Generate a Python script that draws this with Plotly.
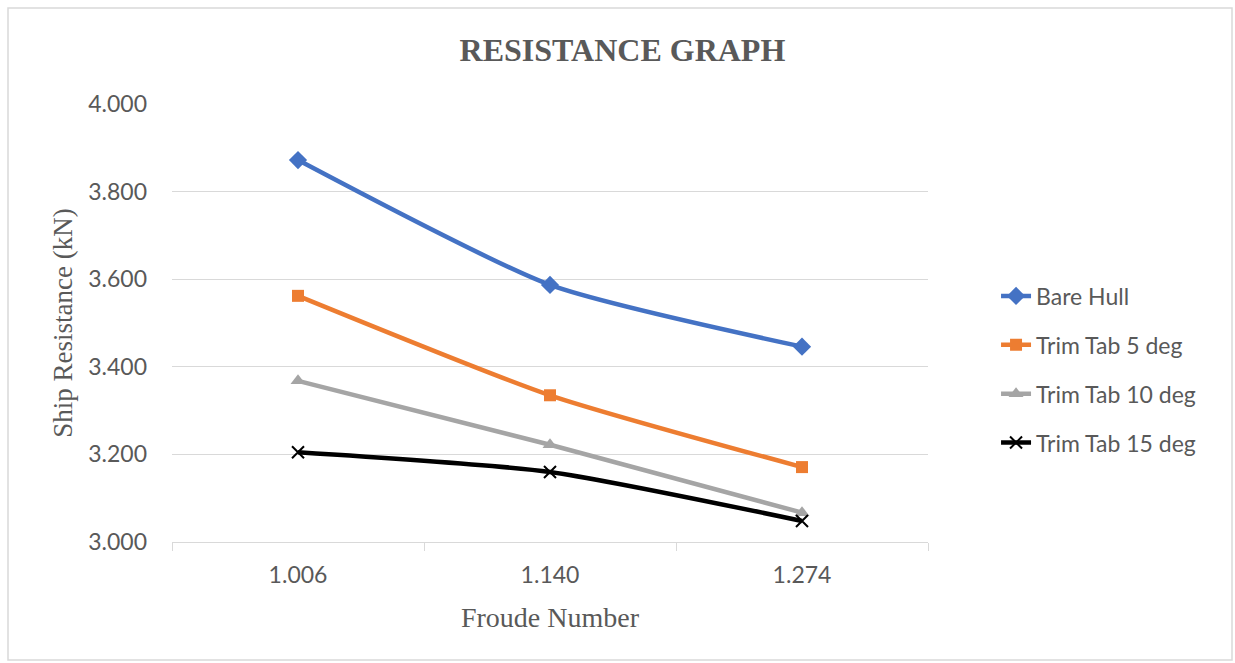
import plotly.graph_objects as go

categories = ["1.006", "1.140", "1.274"]
bare_hull = [3.872, 3.587, 3.446]
trim_5 = [3.562, 3.335, 3.171]
trim_10 = [3.368, 3.222, 3.067]
trim_15 = [3.205, 3.160, 3.048]
y_ticks = [3.0, 3.2, 3.4, 3.6, 3.8, 4.0]

series = [
    ("Bare Hull", bare_hull, "#4472C4", dict(symbol="diamond", size=14)),
    ("Trim Tab 5 deg", trim_5, "#ED7D31", dict(symbol="square", size=12)),
    ("Trim Tab 10 deg", trim_10, "#A5A5A5", dict(symbol="triangle-up", size=13)),
    ("Trim Tab 15 deg", trim_15, "#000000", dict(symbol="x-thin", size=12, line=dict(width=2, color="#000000"))),
]

fig = go.Figure()
for i, (name, vals, color, mk) in enumerate(series):
    fig.add_trace(go.Scatter(
        x=categories, y=vals, name=name, mode="lines+markers",
        line=dict(color=color, width=4.5, shape="spline", smoothing=0.6),
        marker=dict(color=color, **mk),
        legendgroup=f"g{i}",
    ))

fig.update_layout(
    width=1235, height=663,
    margin=dict(l=172, r=307, t=104, b=121),
    paper_bgcolor="white", plot_bgcolor="white",
    title=dict(text="<b>RESISTANCE GRAPH</b>", x=0.504, xanchor="center", y=0.925, yanchor="middle",
               font=dict(family="Liberation Serif", size=32, color="#595959")),
    showlegend=True,
    legend=dict(x=1.09, y=0.394, xanchor="left", yanchor="middle",
                font=dict(family="Lato", size=23, color="#595959"),
                tracegroupgap=16, bgcolor="rgba(0,0,0,0)"),
    font=dict(family="Lato", color="#595959"),
)
fig.update_xaxes(
    type="category", range=[-0.5, 2.5], tickson="boundaries",
    ticks="outside", ticklen=8, tickcolor="#D9D9D9", tickwidth=1,
    showline=True, linecolor="#D9D9D9", linewidth=1, showgrid=False,
    ticklabelstandoff=12,
    tickfont=dict(family="Lato", size=23, color="#595959"),
    title=dict(text="Froude Number", font=dict(family="Liberation Serif", size=28, color="#595959"), standoff=20),
)
fig.update_yaxes(
    range=[3.0, 4.0], tickvals=y_ticks, tickformat=".3f",
    showgrid=True, gridcolor="#D9D9D9", gridwidth=1, zeroline=False,
    showline=False, ticks="", ticklabelstandoff=24,
    tickfont=dict(family="Lato", size=23, color="#595959"),
    title=dict(text="Ship Resistance (kN)", font=dict(family="Liberation Serif", size=27, color="#595959"), standoff=7),
)
fig.add_shape(type="rect", xref="paper", yref="paper",
              x0=(8 - 172) / 756, x1=(1232 - 172) / 756,
              y0=-(660 - 542) / 438, y1=1 + (104 - 8) / 438,
              line=dict(color="#D9D9D9", width=1.5), layer="below")

fig.write_html("out.html")
